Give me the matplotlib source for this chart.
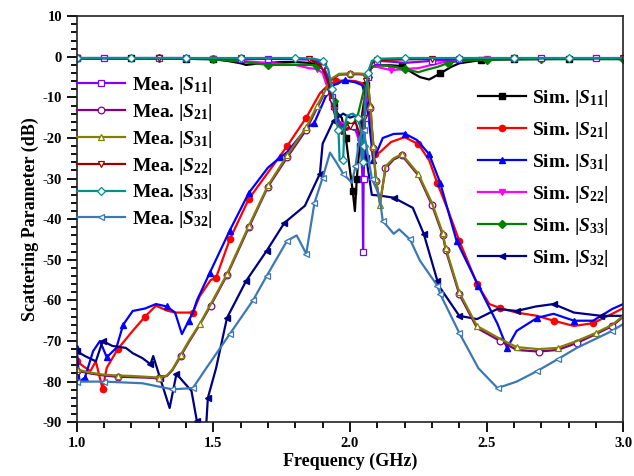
import matplotlib
matplotlib.use("Agg")
import matplotlib.pyplot as plt
from matplotlib.ticker import MultipleLocator

plt.rcParams['font.family'] = 'Liberation Serif'
plt.rcParams['font.weight'] = 'bold'
plt.rcParams['axes.unicode_minus'] = False
plt.rcParams['mathtext.fontset'] = 'custom'
plt.rcParams['mathtext.rm'] = 'Liberation Serif:bold'
plt.rcParams['mathtext.it'] = 'Liberation Serif:italic:bold'
plt.rcParams['mathtext.bf'] = 'Liberation Serif:bold'

# ---- measured data (GHz, dB) ----
mea_s11_f = [1.0, 1.1, 1.2, 1.3, 1.4, 1.5, 1.6, 1.7, 1.8, 1.85, 1.88, 1.90, 1.92, 1.935, 1.95, 1.97,
             1.99, 2.01, 2.03, 2.04, 2.046, 2.048, 2.05, 2.055, 2.065, 2.08, 2.1, 2.15, 2.2, 2.3,
             2.4, 2.5, 2.6, 2.7, 2.8, 2.9, 3.0]
mea_s11_db = [-0.3, -0.3, -0.3, -0.3, -0.3, -0.4, -0.5, -0.5, -0.6, -0.7, -1.0, -2.0, -5, -10, -15, -17,
              -18, -17, -19, -22, -30, -48, -30, -15, -5, -1.5, -1.0, -1.2, -1.5, -1.0,
              -0.6, -0.4, -0.4, -0.4, -0.4, -0.4, -0.4]

mea_s31_f = [1.0, 1.05, 1.1, 1.15, 1.2, 1.25, 1.3, 1.33, 1.35, 1.38, 1.41, 1.45, 1.49, 1.55, 1.63,
             1.70, 1.77, 1.84, 1.88, 1.91, 1.93, 1.96, 2.0, 2.03, 2.05, 2.065, 2.075, 2.085, 2.095,
             2.11, 2.13, 2.16, 2.19, 2.25, 2.30, 2.34, 2.35, 2.40, 2.465, 2.55, 2.61, 2.69, 2.76,
             2.83, 2.9, 2.96, 3.0]
mea_s31_db = [-77, -77.8, -78.3, -78.5, -78.6, -78.8, -79, -78.5, -77, -73.5, -70, -65.8, -61, -53.5, -41.6,
              -31.7, -24.3, -17.4, -12, -8.3, -5.5, -4.2, -4.1, -4.1, -4.2, -6, -12, -22, -30,
              -36.5, -27, -25, -24, -28.8, -36, -43.5, -47, -58, -66.3, -69.5, -71.5, -72, -71.7,
              -70, -68, -66, -63.8]

mea_s21_f = mea_s31_f
mea_s21_db = [-77.3, -78, -78.5, -78.8, -78.9, -79, -79.2, -78.6, -77.2, -73.8, -70.3, -66, -61.3, -53.8, -42,
              -32, -24.8, -18, -12.5, -8.6, -5.8, -4.4, -4.3, -4.3, -4.4, -6.3, -12.5, -22.5, -30.5,
              -36, -27.5, -25.3, -24.3, -29.2, -36.5, -44, -47.5, -58.5, -66.8, -70, -72.2, -72.6, -72.2,
              -70.5, -68.3, -66.3, -64]

mea_s22_f = [1.0, 1.3, 1.6, 1.85, 1.9, 1.92, 1.935, 1.95, 1.97, 2.0, 2.02, 2.04, 2.05, 2.06, 2.08,
             2.1, 2.3, 2.6, 3.0]
mea_s22_db = [-0.4, -0.4, -0.4, -0.5, -2.5, -6, -11, -16, -19, -17, -16, -20, -15, -6, -1.5,
              -0.8, -0.5, -0.4, -0.4]

mea_s33_f = [1.0, 1.2, 1.4, 1.6, 1.8, 1.87, 1.90, 1.92, 1.935, 1.95, 1.958, 1.962, 1.975, 1.98,
             1.99, 2.01, 2.03, 2.04, 2.046, 2.05, 2.055, 2.065, 2.08, 2.1, 2.2, 2.4, 2.6, 2.8, 3.0]
mea_s33_db = [-0.3, -0.3, -0.3, -0.3, -0.3, -0.5, -1, -3, -8, -16, -18, -25.5, -25.5, -17,
              -14.5, -14, -15, -18, -26, -22, -12, -4, -1, -0.5, -0.3, -0.3, -0.3, -0.3, -0.3]

mea_s32_f = [1.0, 1.1, 1.24, 1.35, 1.425, 1.475, 1.56, 1.645, 1.695, 1.77, 1.805, 1.84, 1.87, 1.90,
             1.927, 1.95, 1.975, 2.007, 2.02, 2.035, 2.05, 2.065, 2.08, 2.1, 2.11, 2.12, 2.16, 2.18,
             2.22, 2.256, 2.32, 2.33, 2.40, 2.47, 2.54, 2.61, 2.685, 2.76, 2.83, 2.96, 3.0]
mea_s32_db = [-80, -80, -80.4, -81.9, -81.6, -76.6, -68.3, -60, -54, -45.3, -44, -48.5, -36, -29.8,
              -23.6, -26, -28.8, -31, -27, -20, -18, -24, -30, -33, -35.4, -40.4, -43.6, -42.5,
              -45, -50.2, -56.4, -58.4, -68, -76.7, -81.6, -80, -77.4, -74.5, -71.7, -67.5, -65.8]

# ---- simulated data (GHz, dB) ----
sim_s11_f = [1.0, 1.2, 1.4, 1.5, 1.55, 1.6, 1.62, 1.66, 1.7, 1.75, 1.8, 1.85, 1.88, 1.90, 1.92, 1.94,
             1.955, 1.97, 1.985, 2.0, 2.01, 2.018, 2.025, 2.035, 2.045, 2.06, 2.075, 2.09, 2.11,
             2.15, 2.19, 2.23, 2.256, 2.29, 2.33, 2.37, 2.40, 2.44, 2.48, 2.6, 2.8, 3.0]
sim_s11_db = [-0.4, -0.4, -0.5, -0.6, -1.0, -1.6, -2.0, -1.7, -1.5, -1.3, -1.3, -1.5, -1.8, -3, -7, -12,
              -14, -15, -20, -28, -33, -38, -30, -22, -14, -7, -3, -2.2, -2.1,
              -2.1, -2.3, -4, -5, -5.6, -4.1, -2.5, -1.6, -1.2, -0.8, -0.6, -0.5, -0.5]

sim_s21_f = [1.0, 1.03, 1.05, 1.07, 1.095, 1.11, 1.15, 1.205, 1.25, 1.29, 1.33, 1.36, 1.425, 1.45,
             1.49, 1.51, 1.56, 1.63, 1.70, 1.77, 1.84, 1.89, 1.92, 1.95, 1.98, 2.02, 2.045, 2.06,
             2.07, 2.08, 2.09, 2.11, 2.15, 2.2, 2.25, 2.29, 2.32, 2.36, 2.40, 2.465, 2.51, 2.55,
             2.61, 2.685, 2.745, 2.82, 2.89, 2.96, 3.0]
sim_s21_db = [-75, -76.5, -77.4, -75, -81.9, -76.6, -72, -67.5, -64, -61.3, -62.5, -63, -63, -59,
              -55, -54.4, -45, -35, -28.5, -22, -15, -9, -7, -6, -5.8, -6, -6.5, -8,
              -12, -18, -24, -23.5, -21, -19.8, -21.5, -25.5, -31.2, -38, -45.3, -55.9, -60.9, -61.9,
              -63, -63.8, -65, -66.3, -65.6, -63.3, -61.9]

sim_s31_f = [1.0, 1.01, 1.03, 1.06, 1.085, 1.11, 1.145, 1.17, 1.205, 1.25, 1.29, 1.33, 1.36, 1.385,
             1.41, 1.425, 1.44, 1.487, 1.56, 1.63, 1.70, 1.744, 1.77, 1.84, 1.87, 1.91, 1.94, 1.98,
             2.02, 2.045, 2.06, 2.07, 2.085, 2.095, 2.12, 2.16, 2.2, 2.245, 2.29, 2.33, 2.39, 2.47,
             2.54, 2.575, 2.61, 2.685, 2.745, 2.82, 2.89, 2.96, 3.0]
sim_s31_db = [-71.7, -80, -79, -72.5, -70, -74, -71.7, -66, -62.6, -62, -60.9, -61.5, -63, -68.3,
              -65, -63, -60, -53.2, -42.8, -33.5, -27.3, -24.8, -23.5, -17.7, -16.2, -10, -7, -5.8,
              -6.3, -7, -10.7, -16, -25.5, -24, -20, -19, -18.9, -20.5, -24, -31, -45.3, -56.4,
              -65.8, -71.7, -67.5, -64.3, -63.3, -65, -65, -62.1, -60.9]

sim_s22_f = [1.0, 1.3, 1.5, 1.6, 1.7, 1.8, 1.85, 1.88, 1.90, 1.92, 1.94, 1.96, 1.98, 2.0, 2.02,
             2.035, 2.045, 2.055, 2.065, 2.08, 2.1, 2.15, 2.2, 2.25, 2.3, 2.35, 2.4, 2.5, 2.7, 3.0]
sim_s22_db = [-0.4, -0.4, -0.5, -1.0, -1.5, -2.0, -2.8, -3.0, -4, -8, -13, -16, -16.5, -17, -18,
              -21, -17, -11, -5, -2.5, -2.5, -3.3, -3.0, -2.8, -2.0, -1.2, -0.9, -0.6, -0.5, -0.5]

sim_s33_f = [1.0, 1.3, 1.5, 1.6, 1.7, 1.8, 1.85, 1.88, 1.90, 1.92, 1.94, 1.96, 1.975, 1.99, 2.01,
             2.03, 2.048, 2.065, 2.08, 2.1, 2.15, 2.2, 2.25, 2.28, 2.32, 2.36, 2.4, 2.5, 2.7, 3.0]
sim_s33_db = [-0.4, -0.4, -0.6, -1.2, -2.0, -2.0, -2.0, -2.2, -3, -6, -11, -16, -19, -16, -17,
              -14, -9, -5, -2.5, -2.0, -2.3, -3.0, -3.8, -3.2, -2.5, -1.5, -1.0, -0.7, -0.6, -0.6]

sim_s32_f = [1.0, 1.03, 1.07, 1.095, 1.13, 1.18, 1.205, 1.24, 1.27, 1.28, 1.305, 1.34, 1.365, 1.42,
             1.44, 1.455, 1.47, 1.48, 1.51, 1.55, 1.62, 1.695, 1.76, 1.835, 1.89, 1.90, 1.94, 1.975,
             2.0, 2.02, 2.04, 2.06, 2.08, 2.11, 2.16, 2.23, 2.27, 2.32, 2.33, 2.40, 2.465, 2.54,
             2.61, 2.68, 2.745, 2.82, 2.92, 3.0]
sim_s32_db = [-72.5, -73.7, -75, -70, -71.2, -71.7, -73, -74.2, -75.7, -73.7, -79.1, -86.5, -78.1, -82.3,
              -89.8, -95, -95, -84, -76.7, -64.3, -55.2, -47.8, -40.9, -36.7, -28.8, -21.4, -15.7, -14,
              -15, -14.5, -16.4, -25, -34, -34.2, -34.7, -37.2, -43.6, -55.2, -56.9, -63.8, -64.6, -62.1,
              -62.6, -61.5, -60.9, -63, -63.8, -63.8]

mea_series = [
    (mea_s11_f, mea_s11_db, '#8000ff', 's', '11'),
    (mea_s21_f, mea_s21_db, '#800080', 'o', '21'),
    (mea_s31_f, mea_s31_db, '#808000', '^', '31'),
    (mea_s22_f, mea_s22_db, '#990000', 'v', '22'),
    (mea_s33_f, mea_s33_db, '#009090', 'D', '33'),
    (mea_s32_f, mea_s32_db, '#3c78b4', '<', '32'),
]
sim_series = [
    (sim_s11_f, sim_s11_db, '#000000', 's', '11'),
    (sim_s21_f, sim_s21_db, '#ff0000', 'o', '21'),
    (sim_s31_f, sim_s31_db, '#0000ff', '^', '31'),
    (sim_s22_f, sim_s22_db, '#ff00ff', 'v', '22'),
    (sim_s33_f, sim_s33_db, '#008000', 'D', '33'),
    (sim_s32_f, sim_s32_db, '#000080', '<', '32'),
]

fig, ax = plt.subplots(figsize=(6.34, 4.76), dpi=100)
fig.subplots_adjust(left=0.121, right=0.983, top=0.966, bottom=0.113)

sim_handles = []
for f, db, c, m, idx in sim_series:
    h, = ax.plot(f, db, color=c, lw=1.6, marker=m, ms=4.5 if m != 'D' else 3.8,
                 mfc=c, mec=c, markevery=0.07,
                 label=r'Sim. |$S_{%s}$|' % idx)
    sim_handles.append(h)

mea_handles = []
for f, db, c, m, idx in mea_series:
    h, = ax.plot(f, db, color=c, lw=1.6, marker=m, ms=4.8 if m != 'D' else 4.0,
                 mfc='white', mec=c, mew=0.9, markevery=0.06,
                 label=r'Mea. |$S_{%s}$|' % idx)
    mea_handles.append(h)

ax.set_xlim(1.0, 3.0)
ax.set_ylim(-90, 10)
ax.xaxis.set_major_locator(MultipleLocator(0.5))
ax.xaxis.set_minor_locator(MultipleLocator(0.1))
ax.yaxis.set_major_locator(MultipleLocator(10))
ax.yaxis.set_minor_locator(MultipleLocator(2))
ax.xaxis.set_major_formatter(matplotlib.ticker.FormatStrFormatter('%.1f'))
ax.tick_params(which='both', direction='out', top=False, right=False, width=1.3, labelsize=10.5)
ax.tick_params(which='major', length=7)
ax.tick_params(which='minor', length=4)
for s in ax.spines.values():
    s.set_linewidth(1.2)
    s.set_color('#222222')

ax.set_xlabel('Frequency (GHz)', fontsize=13, fontweight='bold', labelpad=2)
ax.set_ylabel('Scattering Parameter (dB)', fontsize=13, fontweight='bold', labelpad=3)

leg1 = ax.legend(handles=mea_handles, loc='upper left', bbox_to_anchor=(0.0, 0.855),
                 frameon=False, fontsize=14, handlelength=2.5, handletextpad=0.35,
                 labelspacing=0.3, borderpad=0, borderaxespad=0)
ax.add_artist(leg1)
ax.legend(handles=sim_handles, loc='upper left', bbox_to_anchor=(0.734, 0.823),
          frameon=False, fontsize=14, handlelength=2.5, handletextpad=0.3,
          labelspacing=0.565, borderpad=0, borderaxespad=0)

fig.savefig('out.png', dpi=100)
